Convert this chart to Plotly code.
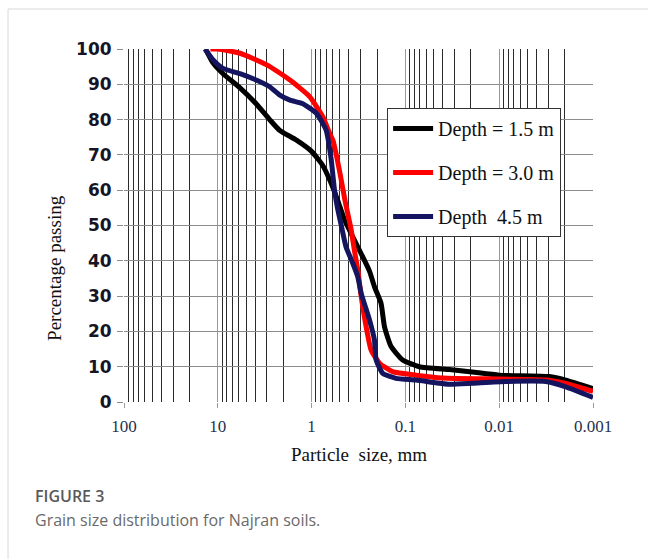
import plotly.graph_objects as go

# ---- data (particle size in mm, percent passing) ----
series_names = ["Depth = 1.5 m", "Depth = 3.0 m", "Depth  4.5 m"]
series_colors = ["#000000", "#ff0000", "#15155f"]

size_15 = [13.5, 11.2, 8.8, 5.8, 3.9, 2.8, 2.2, 1.45, 1.0, 0.76, 0.62, 0.525, 0.446,
           0.364, 0.296, 0.241, 0.214, 0.182, 0.167, 0.142, 0.107, 0.071, 0.034,
           0.0194, 0.01, 0.00294, 0.00195, 0.001]
pass_15 = [100, 96, 93, 89, 84.5, 80, 77, 74.2, 71, 67, 62, 57, 51.6,
           46.8, 42, 37, 32.7, 28, 21.3, 15.7, 11.9, 10, 9.2,
           8.5, 7.6, 7.2, 6.2, 3.8]

size_30 = [12, 10, 5.8, 3.0, 1.7, 1.05, 0.76, 0.64, 0.59, 0.50, 0.44, 0.38, 0.35,
           0.32, 0.30, 0.262, 0.232, 0.189, 0.137, 0.077, 0.04, 0.01, 0.00294,
           0.002, 0.001]
pass_30 = [100, 100, 98.8, 95.5, 91.2, 86.5, 80.8, 76, 74, 65, 57, 49, 43,
           37, 31, 21.3, 14.7, 11, 8.6, 7.6, 6.8, 6.5, 6.2,
           5.3, 3.0]

size_45 = [13.7, 11.2, 8.8, 5.8, 3.9, 2.8, 2.2, 1.7, 1.24, 0.89, 0.70, 0.62, 0.57,
           0.53, 0.48, 0.43, 0.364, 0.322, 0.296, 0.241, 0.214, 0.205, 0.174, 0.126,
           0.077, 0.034, 0.0194, 0.0085, 0.0032, 0.00195, 0.001]
pass_45 = [100, 96.9, 94.5, 93, 91.2, 89.3, 87, 85.5, 84.5, 81.8, 77, 69, 60,
           55, 49.7, 44, 39.3, 35.5, 30.8, 23.2, 17.6, 11.9, 8.1, 6.7,
           6.2, 5.0, 5.3, 5.8, 5.8, 4.3, 1.3]

x_tick_vals = [100, 10, 1, 0.1, 0.01, 0.001]
x_tick_text = ["100", "10", "1", "0.1", "0.01", "0.001"]
y_tick_vals = [0, 10, 20, 30, 40, 50, 60, 70, 80, 90, 100]
minor_vals = [m * 10 ** e for e in range(-3, 2) for m in range(2, 10)]

sizes = [size_15, size_30, size_45]
passes = [pass_15, pass_30, pass_45]

fig = go.Figure()
for i, (nm, col) in enumerate(zip(series_names, series_colors)):
    fig.add_trace(go.Scatter(
        x=sizes[i], y=passes[i], mode="lines", name=nm,
        legendgroup=f"g{i}",
        line=dict(color=col, width=5, shape="spline", smoothing=0.5),
    ))

serif = "Liberation Serif, Times New Roman, serif"

fig.update_layout(
    width=648, height=559,
    margin=dict(l=124, r=55, t=49, b=157),
    paper_bgcolor="white", plot_bgcolor="white",
    showlegend=True,
    legend=dict(
        x=0.561, y=0.833, xanchor="left", yanchor="top",
        bgcolor="white", bordercolor="#333333", borderwidth=1,
        font=dict(family=serif, size=20, color="#111111"),
        tracegroupgap=15, itemwidth=40, entrywidth=166,
    ),
    xaxis=dict(
        type="log", range=[2, -3],
        tickmode="array", tickvals=x_tick_vals, ticktext=x_tick_text,
        showgrid=True, gridcolor="#9a9a9a", gridwidth=1,
        ticks="outside", ticklen=5, tickcolor="#9a9a9a",
        ticklabelstandoff=4,
        tickfont=dict(family=serif, size=17, color="#26324d"),
        minor=dict(tickmode="array", tickvals=minor_vals, showgrid=True,
                   gridcolor="#2b2b2b", gridwidth=1.3),
        showline=False, zeroline=False,
    ),
    yaxis=dict(
        range=[0, 100], tickvals=y_tick_vals,
        showgrid=True, gridcolor="#8c8c8c", gridwidth=1,
        ticks="outside", ticklen=6, tickcolor="#8c8c8c",
        ticklabelstandoff=2,
        tickfont=dict(family="DejaVu Sans", size=17, color="#151525", weight="bold"),
        showline=False, zeroline=False,
    ),
)

# axis titles
fig.add_annotation(text="Particle  size, mm", xref="paper", yref="paper",
                   x=0.5, y=-0.150, xanchor="center", yanchor="middle",
                   showarrow=False, font=dict(family=serif, size=19, color="#111111"))
fig.add_annotation(text="Percentage passing", xref="paper", yref="paper",
                   x=-0.147, y=0.38, xanchor="center", yanchor="middle",
                   textangle=-90, showarrow=False,
                   font=dict(family=serif, size=19, color="#111111"))

# caption
fig.add_annotation(text="FIGURE 3", xref="paper", yref="paper",
                   x=-0.194, y=-0.265, xanchor="left", yanchor="middle",
                   showarrow=False,
                   font=dict(family="Open Sans", size=16, color="#595959", weight=600))
fig.add_annotation(text="Grain size distribution for Najran soils.", xref="paper", yref="paper",
                   x=-0.194, y=-0.333, xanchor="left", yanchor="middle",
                   showarrow=False,
                   font=dict(family="Open Sans", size=16, color="#6a6a6a"))

# card border (left and top)
fig.add_shape(type="line", xref="paper", yref="paper",
              x0=-0.2473, x1=-0.2473, y0=-0.5, y1=1.1133,
              line=dict(color="#d9d9d9", width=1))
fig.add_shape(type="line", xref="paper", yref="paper",
              x0=-0.2473, x1=1.2, y0=1.1133, y1=1.1133,
              line=dict(color="#d9d9d9", width=1))

fig.write_html("out.html")
